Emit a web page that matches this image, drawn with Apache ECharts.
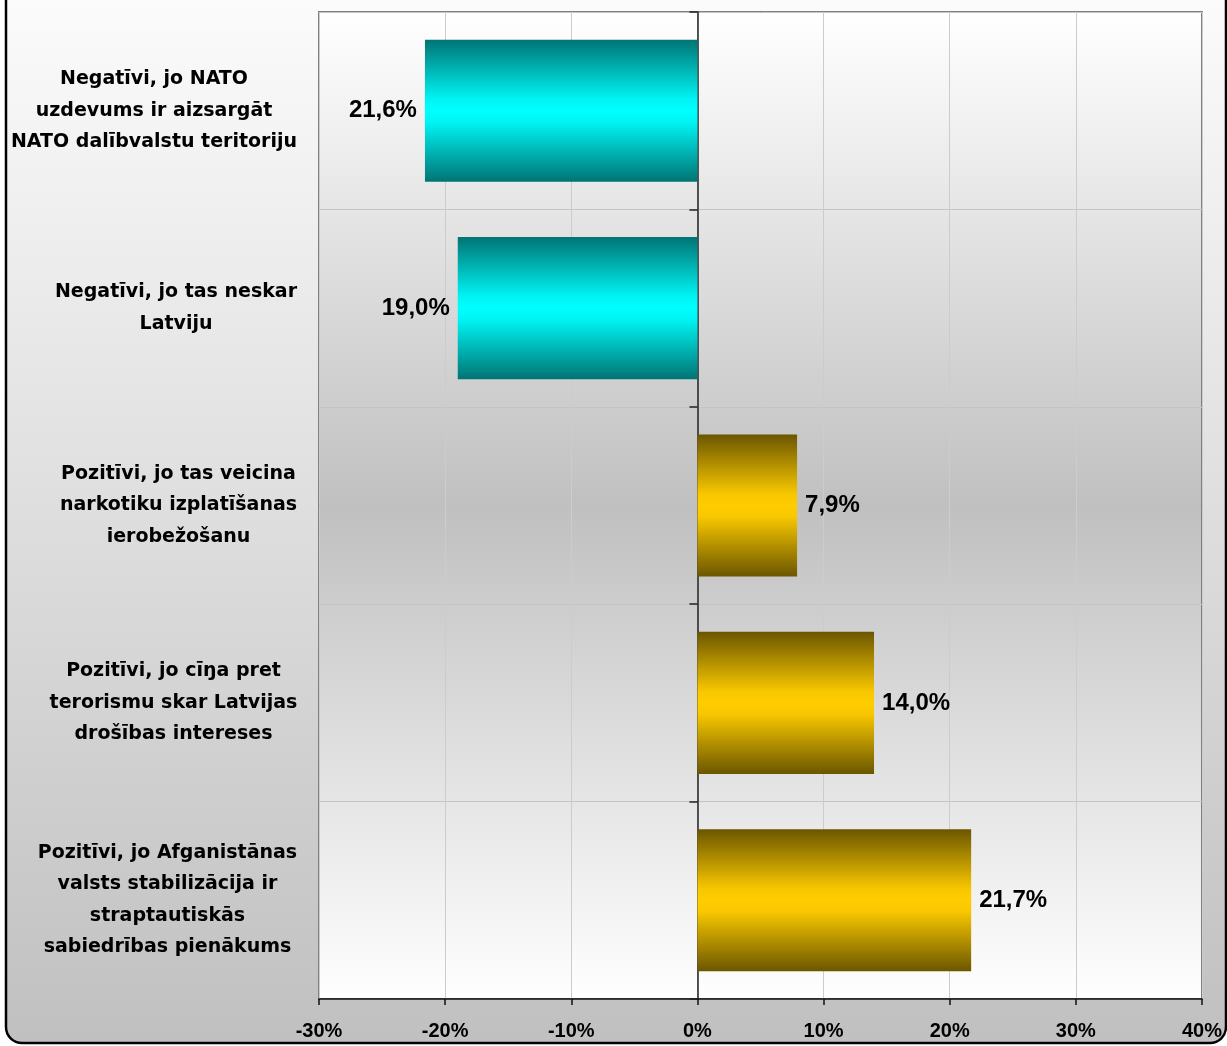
<!DOCTYPE html>
<html>
<head>
<meta charset="utf-8">
<script src="https://cdn.jsdelivr.net/npm/echarts@6/dist/echarts.min.js"></script>
<style>
html,body{margin:0;padding:0;background:#fff;}
#c{width:1227px;height:1046px;}
</style>
</head>
<body>
<div id="c"></div>
<script>
// ---- data ----
const categories = [
  'Negatīvi, jo NATO\nuzdevums ir aizsargāt\nNATO dalībvalstu teritoriju',
  'Negatīvi, jo tas neskar\nLatviju',
  'Pozitīvi, jo tas veicina\nnarkotiku izplatīšanas\nierobežošanu',
  'Pozitīvi, jo cīŋa pret\nterorismu skar Latvijas\ndrošības intereses',
  'Pozitīvi, jo Afganistānas\nvalsts stabilizācija ir\nstraptautiskās\nsabiedrības pienākums'
];
const values = [-21.6, -19.0, 7.9, 14.0, 21.7];
const xTickValues = [-30, -20, -10, 0, 10, 20, 30, 40];

// ---- styles ----
const catFont = {fontFamily: '"DejaVu Sans"', fontWeight: 'bold', fontSize: 19};
const catLineHeight = 31.5;

function measure(text) {
  const ctx = document.createElement('canvas').getContext('2d');
  ctx.font = 'bold ' + catFont.fontSize + 'px "DejaVu Sans"';
  return ctx.measureText(text).width;
}
const rich = {};
categories.forEach((c, i) => {
  const w = Math.max(...c.split('\n').map(measure));
  rich['b' + i] = Object.assign({width: Math.ceil(w) + 1, align: 'center', color: '#000', lineHeight: catLineHeight}, catFont);
});

function barGradient(v) {
  if (v < 0) {
    return new echarts.graphic.LinearGradient(0, 0, 0, 1, [
      {offset: 0, color: '#007474'},
      {offset: 0.42, color: '#00f4f4'},
      {offset: 0.5, color: '#00ffff'},
      {offset: 0.58, color: '#00f4f4'},
      {offset: 1, color: '#007474'}
    ]);
  }
  return new echarts.graphic.LinearGradient(0, 0, 0, 1, [
    {offset: 0, color: '#6b5600'},
    {offset: 0.42, color: '#f8c700'},
    {offset: 0.5, color: '#ffcc00'},
    {offset: 0.58, color: '#f8c700'},
    {offset: 1, color: '#6b5600'}
  ]);
}

const seriesData = values.map(v => ({
  value: v,
  itemStyle: {color: barGradient(v)},
  label: {position: v < 0 ? 'left' : 'right'}
}));

const chart = echarts.init(document.getElementById('c'), null, {renderer: 'canvas'});
chart.setOption({
  backgroundColor: '#ffffff',
  animation: false,
  graphic: [{
    type: 'rect',
    z: -100,
    silent: true,
    shape: {x: 6, y: -30, width: 1220, height: 1073, r: 16},
    style: {
      fill: new echarts.graphic.LinearGradient(0, 0, 0, 1, [
        {offset: 0, color: '#fdfdfd'},
        {offset: 1, color: '#c0c0c0'}
      ]),
      stroke: '#000',
      lineWidth: 2.5
    }
  }],
  grid: {
    left: 319, right: 25, top: 12, bottom: 47,
    containLabel: false,
    show: true,
    borderColor: '#808080',
    borderWidth: 2,
    backgroundColor: new echarts.graphic.LinearGradient(0, 0, 0, 1, [
      {offset: 0, color: '#ffffff'},
      {offset: 0.5, color: '#c0c0c0'},
      {offset: 1, color: '#ffffff'}
    ])
  },
  xAxis: {
    type: 'value',
    min: xTickValues[0],
    max: xTickValues[xTickValues.length - 1],
    interval: xTickValues[1] - xTickValues[0],
    axisLine: {show: true, lineStyle: {color: '#111', width: 1.5}},
    axisTick: {show: true, length: 6, lineStyle: {color: '#111', width: 1.5}},
    axisLabel: {
      formatter: '{value}%',
      margin: 22,
      color: '#000',
      fontFamily: '"Liberation Sans", Arial',
      fontWeight: 'bold',
      fontSize: 20
    },
    splitLine: {show: true, lineStyle: {color: '#cccccc', width: 1}}
  },
  yAxis: [{
    type: 'category',
    data: categories,
    inverse: true,
    position: 'left',
    axisLine: {show: false, onZero: false},
    axisTick: {show: false},
    splitLine: {show: true, lineStyle: {color: '#c4c4c4', width: 1}},
    axisLabel: {
      margin: 21,
      formatter: (val, idx) => val.split('\n').map(l => '{b' + idx + '|' + l + '}').join('\n'),
      rich: rich
    }
  }, {
    type: 'category',
    data: categories,
    inverse: true,
    position: 'left',
    axisLine: {show: true, onZero: true, lineStyle: {color: '#222', width: 1.5}},
    axisTick: {show: true, length: 8, lineStyle: {color: '#222', width: 1.5}},
    axisLabel: {show: false},
    splitLine: {show: false}
  }],
  series: [{
    type: 'bar',
    yAxisIndex: 0,
    barWidth: '72%',
    data: seriesData,
    label: {
      show: true,
      distance: 8,
      color: '#000',
      fontFamily: '"Liberation Sans", Arial',
      fontWeight: 'bold',
      fontSize: 24,
      formatter: p => Math.abs(p.value).toFixed(1).replace('.', ',') + '%'
    }
  }]
});
</script>
</body>
</html>
